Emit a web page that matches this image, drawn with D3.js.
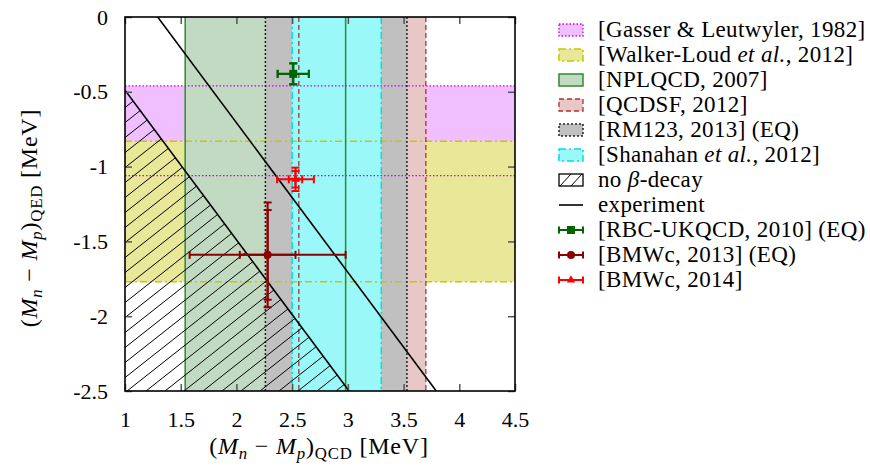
<!DOCTYPE html>
<html>
<head>
<meta charset="utf-8">
<script src="https://cdn.jsdelivr.net/npm/d3@7"></script>
<style>
  body { margin: 0; background: #fff; }
  svg text { font-family: "Liberation Serif", "Times New Roman", serif; fill: #000; }
</style>
</head>
<body>
<svg id="chart" width="870" height="466"></svg>
<script>
// values (MeV)
var hBandNames = ["gasser", "walker"];
var hBandLo = [-1.06, -1.77];
var hBandHi = [-0.46, -0.83];

var vBandNames = ["nplqcd", "qcdsf", "rm123", "shanahan"];
var vBandLo = [1.54, 2.56, 2.26, 2.50];
var vBandHi = [2.98, 3.70, 3.53, 3.30];

var pointNames = ["rbc", "bmw13", "bmw14"];
var pointX = [2.51, 2.28, 2.53];
var pointY = [-0.38, -1.59, -1.085];
var xErrIn = [0.14, 0.25, 0.06];
var xErrOut = [0.14, 0.70, 0.165];
var yErrIn = [0.07, 0.30, 0.055];
var yErrOut = [0.07, 0.35, 0.078];

var experiment = 1.2933;   // (Mn-Mp) total
var betaLimit = 0.511;     // below this: no beta decay

var xTicks = [1, 1.5, 2, 2.5, 3, 3.5, 4, 4.5];
var yTicks = [0, -0.5, -1, -1.5, -2, -2.5];

var styles = {
  gasser:   {fill: "#efbfff", stroke: "#c800ff", dash: "1.5,2", w: 1.3},
  walker:   {fill: "#e8e898", stroke: "#c8c800", dash: "7,3,2,3", w: 1.5},
  nplqcd:   {fill: "#c2d9c2", stroke: "#2e8b2e", dash: null, w: 1.5},
  qcdsf:    {fill: "#e8c7c7", stroke: "#b03030", dash: "5,3", w: 1.3},
  rm123:    {fill: "#c0c0c0", stroke: "#222", dash: "2,2", w: 1.5},
  shanahan: {fill: "#9af8f8", stroke: "#00dede", dash: "7,3,2,3", w: 1.5}
};
var pointColor = {rbc: "#006400", bmw13: "#8b0000", bmw14: "#ff0000"};

var legendRows = [
  {key: "gasser", type: "band", segs: [{t: "[Gasser & Leutwyler, 1982]"}]},
  {key: "walker", type: "band", segs: [{t: "[Walker-Loud "}, {t: "et al.", i: 1}, {t: ", 2012]"}]},
  {key: "nplqcd", type: "band", segs: [{t: "[NPLQCD, 2007]"}]},
  {key: "qcdsf", type: "band", segs: [{t: "[QCDSF, 2012]"}]},
  {key: "rm123", type: "band", segs: [{t: "[RM123, 2013] (EQ)"}]},
  {key: "shanahan", type: "band", segs: [{t: "[Shanahan "}, {t: "et al.", i: 1}, {t: ", 2012]"}]},
  {key: "hatch", type: "hatch", segs: [{t: "no "}, {t: "β", i: 1}, {t: "-decay"}]},
  {key: "exp", type: "line", segs: [{t: "experiment"}]},
  {key: "rbc", type: "point", segs: [{t: "[RBC-UKQCD, 2010] (EQ)"}]},
  {key: "bmw13", type: "point", segs: [{t: "[BMWc, 2013] (EQ)"}]},
  {key: "bmw14", type: "point", segs: [{t: "[BMWc, 2014]"}]}
];

var FONT = "Liberation Serif";

var svg = d3.select("#chart");
var x = d3.scaleLinear().domain([1, 4.5]).range([125, 515]);
var y = d3.scaleLinear().domain([-2.5, 0]).range([391, 17]);
var x0 = x.range()[0], x1 = x.range()[1], yTop = y.range()[1], yBot = y.range()[0];

var defs = svg.append("defs");
defs.append("clipPath").attr("id", "plotclip").append("rect")
  .attr("x", x0).attr("y", yTop).attr("width", x1 - x0).attr("height", yBot - yTop);

// no beta decay region: x + y < betaLimit
var hatchPoly = [[1, betaLimit - 1], [1, -2.5], [betaLimit + 2.5, -2.5]];
defs.append("clipPath").attr("id", "hatchclip").append("path")
  .attr("d", "M" + hatchPoly.map(function(p) { return x(p[0]) + "," + y(p[1]); }).join("L") + "Z");

var plot = svg.append("g").attr("clip-path", "url(#plotclip)");

// fills: horizontal bands first, vertical bands on top
hBandNames.forEach(function(k, i) {
  plot.append("rect").attr("x", x0).attr("width", x1 - x0)
    .attr("y", y(hBandHi[i])).attr("height", y(hBandLo[i]) - y(hBandHi[i]))
    .attr("fill", styles[k].fill);
});
vBandNames.forEach(function(k, i) {
  plot.append("rect").attr("y", yTop).attr("height", yBot - yTop)
    .attr("x", x(vBandLo[i])).attr("width", x(vBandHi[i]) - x(vBandLo[i]))
    .attr("fill", styles[k].fill);
});

// band borders
function bandLine(k, xa, ya, xb, yb) {
  var s = styles[k];
  plot.append("line").attr("x1", xa).attr("y1", ya).attr("x2", xb).attr("y2", yb)
    .attr("stroke", s.stroke).attr("stroke-width", s.w)
    .attr("stroke-dasharray", s.dash);
}
hBandNames.forEach(function(k, i) {
  bandLine(k, x0, y(hBandHi[i]), x1, y(hBandHi[i]));
  bandLine(k, x0, y(hBandLo[i]), x1, y(hBandLo[i]));
});
vBandNames.forEach(function(k, i) {
  bandLine(k, x(vBandLo[i]), yTop, x(vBandLo[i]), yBot);
  bandLine(k, x(vBandHi[i]), yTop, x(vBandHi[i]), yBot);
});

// hatching
var hatch = plot.append("g").attr("clip-path", "url(#hatchclip)");
var hx = 19, hy = 15; // spacing along bottom and left edge
for (var c = -30; c < 40; c++) {
  var bx = x0 + 2 + c * hx;
  hatch.append("line")
    .attr("x1", bx).attr("y1", yBot)
    .attr("x2", bx + 400 * hx / hy).attr("y2", yBot - 400)
    .attr("stroke", "#000").attr("stroke-width", 1);
}
plot.append("line")
  .attr("x1", x(1)).attr("y1", y(betaLimit - 1))
  .attr("x2", x(betaLimit + 2.5)).attr("y2", y(-2.5))
  .attr("stroke", "#000").attr("stroke-width", 1.6);

// experiment line
plot.append("line")
  .attr("x1", x(experiment)).attr("y1", y(0))
  .attr("x2", x(experiment + 2.5)).attr("y2", y(-2.5))
  .attr("stroke", "#000").attr("stroke-width", 1.6);

// error bars
function errBar(g, col, xa, xb, ya, yb, horiz, cap) {
  g.append("line").attr("x1", xa).attr("y1", ya).attr("x2", xb).attr("y2", yb)
    .attr("stroke", col).attr("stroke-width", 2);
  [[xa, ya], [xb, yb]].forEach(function(p) {
    if (horiz) g.append("line").attr("x1", p[0]).attr("x2", p[0]).attr("y1", p[1] - cap).attr("y2", p[1] + cap)
      .attr("stroke", col).attr("stroke-width", 2);
    else g.append("line").attr("y1", p[1]).attr("y2", p[1]).attr("x1", p[0] - cap).attr("x2", p[0] + cap)
      .attr("stroke", col).attr("stroke-width", 2);
  });
}
function marker(g, k, cx, cy) {
  var col = pointColor[k];
  if (k === "rbc") g.append("rect").attr("x", cx - 4).attr("y", cy - 4).attr("width", 8).attr("height", 8).attr("fill", col);
  else if (k === "bmw13") g.append("circle").attr("cx", cx).attr("cy", cy).attr("r", 4).attr("fill", col);
  else g.append("path").attr("d", d3.symbol(d3.symbolTriangle, 30)()).attr("transform", "translate(" + cx + "," + cy + ")").attr("fill", col);
}
var pts = svg.append("g");
pointNames.forEach(function(k, i) {
  var col = pointColor[k], cx = x(pointX[i]), cy = y(pointY[i]);
  errBar(pts, col, x(pointX[i] - xErrOut[i]), x(pointX[i] + xErrOut[i]), cy, cy, true, 4);
  errBar(pts, col, x(pointX[i] - xErrIn[i]), x(pointX[i] + xErrIn[i]), cy, cy, true, 4);
  errBar(pts, col, cx, cx, y(pointY[i] + yErrOut[i]), y(pointY[i] - yErrOut[i]), false, 4);
  errBar(pts, col, cx, cx, y(pointY[i] + yErrIn[i]), y(pointY[i] - yErrIn[i]), false, 4);
  marker(pts, k, cx, cy);
});

// axes: inward ticks, mirrored
var fmt = function(d) { return String(d).replace("\u2212", "-"); };
var gx = svg.append("g").attr("transform", "translate(0," + yBot + ")")
  .call(d3.axisBottom(x).tickValues(xTicks).tickFormat(fmt).tickSize(-7).tickPadding(20));
var gy = svg.append("g").attr("transform", "translate(" + x0 + ",0)")
  .call(d3.axisLeft(y).tickValues(yTicks).tickFormat(fmt).tickSize(-7).tickPadding(17));
var gx2 = svg.append("g").attr("transform", "translate(0," + yTop + ")")
  .call(d3.axisTop(x).tickValues(xTicks).tickFormat("").tickSize(-7));
var gy2 = svg.append("g").attr("transform", "translate(" + x1 + ",0)")
  .call(d3.axisRight(y).tickValues(yTicks).tickFormat("").tickSize(-7));
[gx, gy, gx2, gy2].forEach(function(g) {
  g.attr("font-family", FONT);
  g.select(".domain").remove();
  g.selectAll(".tick line").attr("stroke", "#555").attr("stroke-width", 1.5);
  g.selectAll("text").attr("font-family", FONT).attr("font-size", 22).attr("fill", "#000");
});
svg.append("rect").attr("x", x0).attr("y", yTop).attr("width", x1 - x0).attr("height", yBot - yTop)
  .attr("fill", "none").attr("stroke", "#000").attr("stroke-width", 1.6);

// rich text helper
function rich(t, segs, size) {
  var cur = 0;
  t.attr("font-family", FONT);
  segs.forEach(function(s) {
    var shift = s.sub ? 5 : 0;
    var ts = t.append("tspan").text(s.t).attr("dy", shift - cur);
    cur = shift;
    if (s.i) ts.style("font-style", "italic");
    if (s.sub) ts.attr("font-size", size * 0.7);
  });
}
var titleSegs = function(sub) {
  return [{t: "("}, {t: "M", i: 1}, {t: "n", i: 1, sub: 1}, {t: " \u2212 "}, {t: "M", i: 1}, {t: "p", i: 1, sub: 1},
          {t: ")"}, {t: sub, sub: 1}, {t: " [MeV]"}];
};
var xt = svg.append("text").attr("x", 319).attr("y", 454).attr("text-anchor", "middle")
  .attr("font-size", 24).style("letter-spacing", "0.8px");
rich(xt, titleSegs("QCD"), 24);
var yt = svg.append("text").attr("transform", "translate(37,218) rotate(-90)").attr("text-anchor", "middle")
  .attr("font-size", 24).style("letter-spacing", "0.8px");
rich(yt, titleSegs("QED"), 24);

// legend
var lg = svg.append("g");
legendRows.forEach(function(r, i) {
  var cy = 30 + i * 25, lx0 = 559, lx1 = 583;
  if (r.type === "band") {
    var s = styles[r.key];
    lg.append("rect").attr("x", lx0).attr("y", cy - 6).attr("width", lx1 - lx0).attr("height", 12)
      .attr("fill", s.fill).attr("stroke", s.stroke).attr("stroke-width", s.w).attr("stroke-dasharray", s.dash);
  } else if (r.type === "hatch") {
    lg.append("rect").attr("x", lx0).attr("y", cy - 6).attr("width", lx1 - lx0).attr("height", 12)
      .attr("fill", "#fff").attr("stroke", "#000").attr("stroke-width", 1.3);
    lg.append("line").attr("x1", lx0 + 1).attr("y1", cy + 6).attr("x2", lx0 + 12).attr("y2", cy - 6).attr("stroke", "#000");
    lg.append("line").attr("x1", lx0 + 12).attr("y1", cy + 6).attr("x2", lx1 - 1).attr("y2", cy - 6).attr("stroke", "#000");
  } else if (r.type === "line") {
    lg.append("line").attr("x1", lx0).attr("x2", lx1).attr("y1", cy).attr("y2", cy).attr("stroke", "#000").attr("stroke-width", 1.6);
  } else {
    errBar(lg, pointColor[r.key], lx0, lx1, cy, cy, true, 3.5);
    marker(lg, r.key, (lx0 + lx1) / 2, cy);
  }
  var t = lg.append("text").attr("x", 598).attr("y", cy + 7).attr("font-size", 23).style("letter-spacing", "0.35px");
  rich(t, r.segs, 23);
});
</script>
</body>
</html>
